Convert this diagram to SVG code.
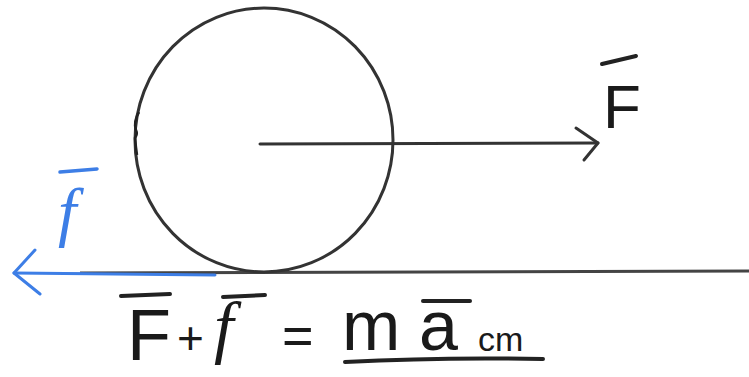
<svg xmlns="http://www.w3.org/2000/svg" width="749" height="377" viewBox="0 0 749 377">
<style>
.ink{fill:none;stroke:#333;stroke-width:3;stroke-linecap:round;stroke-linejoin:round}
.blue{fill:none;stroke:#3d7ee6;stroke-width:3;stroke-linecap:round;stroke-linejoin:round}
.bar{fill:none;stroke:#222;stroke-width:4;stroke-linecap:round}
.t{font-family:"Liberation Sans",Arial,sans-serif;fill:#1a1a1a}
.ti{font-family:"Liberation Serif","Times New Roman",serif;font-style:italic;fill:#1a1a1a}
</style>
<rect width="749" height="377" fill="#fff"/>
<g id="ground">
<line x1="20" y1="273" x2="749" y2="271" stroke="#bbb" stroke-width="1.5"/>
<line x1="80" y1="273" x2="749" y2="271" stroke="#444" stroke-width="3"/>
</g>
<g id="wheel">
<ellipse cx="264" cy="140" rx="129" ry="132" class="ink"/>
<path d="M139 112 Q133 122 136 130 Q138 134 135 138 Q136 148 137 155" fill="none" stroke="#222" stroke-width="2.5"/>
</g>
<g id="connectors">
<g id="force-F">
<line x1="260" y1="144" x2="598" y2="143" class="ink"/>
<path d="M576 128 L598 143 L584 160" class="ink"/>
</g>
<g id="force-f">
<line x1="215" y1="275" x2="14" y2="273" class="blue"/>
<path d="M35 250 L14 273 L40 294" class="blue"/>
</g>
</g>
<g id="label-F">
<line x1="602" y1="64" x2="636" y2="56" class="bar"/>
<text x="603" y="128" class="t" font-size="62">F</text>
</g>
<g id="label-f">
<line x1="60" y1="172" x2="97" y2="169" stroke="#3d7ee6" stroke-width="3.5" stroke-linecap="round"/>
<text x="58" y="234" class="ti" font-size="66" style="fill:#3d7ee6">f</text>
</g>
<g id="equation">
<line x1="121" y1="296" x2="170" y2="294" class="bar"/>
<text x="127" y="360" class="t" font-size="72">F</text>
<text x="177" y="354" class="t" font-size="46">+</text>
<line x1="223" y1="297" x2="265" y2="295" class="bar"/>
<text x="214" y="350" class="ti" font-size="70">f</text>
<text x="282" y="354" class="t" font-size="54">=</text>
<text x="342" y="350" class="t" font-size="70">m</text>
<line x1="423" y1="301" x2="470" y2="301" class="bar"/>
<text x="419" y="350" class="t" font-size="70">a</text>
<text x="478" y="351" class="t" font-size="34">cm</text>
<path d="M345 362 Q440 357 543 359" class="bar" stroke-width="3.5"/>
</g>
</svg>
